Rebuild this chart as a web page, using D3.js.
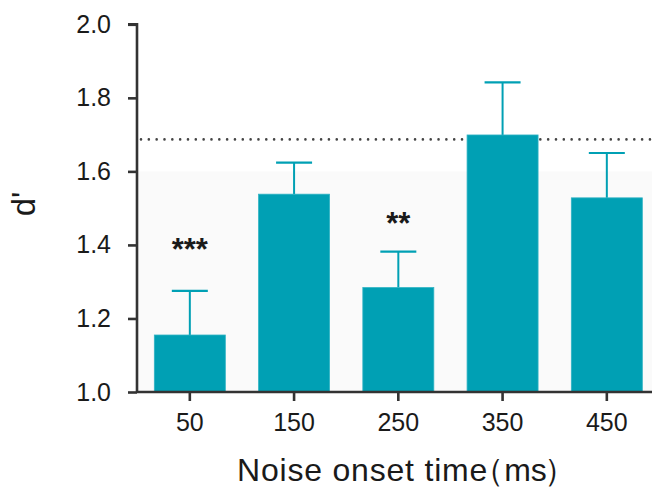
<!DOCTYPE html>
<html><head><meta charset="utf-8">
<script src="https://cdn.jsdelivr.net/npm/d3@7"></script>
<style>body{margin:0;background:#fff}svg{display:block}text{font-family:"Liberation Sans",Arial,sans-serif;fill:#1a1a1a}</style>
</head><body><svg id="c" width="652" height="488"></svg>
<script>
const categories = ["50","150","250","350","450"];
const means = [1.155, 1.538, 1.284, 1.699, 1.528];
const errTops = [1.275, 1.624, 1.382, 1.842, 1.650];
const stars = ["***", "", "**", "", ""];
const starLevels = [1.359, null, 1.430, null, null];
const yTicks = [1.0, 1.2, 1.4, 1.6, 1.8, 2.0];
const refLine = 1.687;
const shadeTop = 1.6;

const svg = d3.select("#c");
const x = d3.scaleBand().domain(categories).range([137.7, 658.95]).paddingInner(0.319).paddingOuter(0.1595);
const y = d3.scaleLinear().domain([1.0, 2.0]).range([392, 24.3]);
const col = "#00a0b4";
const axisCol = "#333333";
const font = "Liberation Sans, Arial, sans-serif";

// faint shading
svg.append("rect").attr("x", 137).attr("y", y(shadeTop)).attr("width", 652 - 137).attr("height", y(1.0) - y(shadeTop)).attr("fill", "#fafafa");

// dotted reference line
svg.append("line").attr("x1", 141).attr("x2", 652).attr("y1", y(refLine)).attr("y2", y(refLine))
  .attr("stroke", "#444").attr("stroke-width", 2.6).attr("stroke-linecap", "round").attr("stroke-dasharray", "0 7.83");

const data = categories.map((c, i) => ({c, m: means[i], e: errTops[i], s: stars[i], sl: starLevels[i]}));

// error bars
const g = svg.append("g");
data.forEach(d => {
  const cx = x(d.c) + x.bandwidth() / 2;
  g.append("line").attr("x1", cx).attr("x2", cx).attr("y1", y(d.m)).attr("y2", y(d.e)).attr("stroke", col).attr("stroke-width", 2);
  g.append("line").attr("x1", cx - 18).attr("x2", cx + 18).attr("y1", y(d.e)).attr("y2", y(d.e)).attr("stroke", col).attr("stroke-width", 2.2);
});

// bars
svg.append("g").selectAll("rect").data(data).join("rect")
  .attr("x", d => x(d.c)).attr("width", x.bandwidth())
  .attr("y", d => y(d.m)).attr("height", d => y(1.0) - y(d.m))
  .attr("fill", col).attr("stroke", "#2fb3c4").attr("stroke-width", 0.8);

// stars
svg.append("g").selectAll("text").data(data.filter(d => d.s)).join("text")
  .attr("x", d => x(d.c) + x.bandwidth() / 2)
  .attr("y", d => y(d.sl))
  .attr("text-anchor", "middle").attr("font-size", 31).attr("font-weight", "bold").text(d => d.s);

// y axis
const yAxis = d3.axisLeft(y).tickValues(yTicks).tickFormat(d3.format(".1f")).tickSize(9).tickPadding(17);
const ya = svg.append("g").attr("transform", "translate(137,0)").call(yAxis);
ya.select(".domain").attr("stroke", axisCol).attr("stroke-width", 2.6).attr("d", `M-9,${y(2.0)}H0V${y(1.0)}`);
ya.selectAll(".tick line").attr("stroke", axisCol).attr("stroke-width", 2.6);
ya.selectAll(".tick text").attr("font-size", 25).attr("fill", "#1a1a1a").attr("font-family", font);

// x axis
const xAxis = d3.axisBottom(x).tickSize(9).tickPadding(12);
const xa = svg.append("g").attr("transform", "translate(0,392)").call(xAxis);
xa.select(".domain").attr("stroke", axisCol).attr("stroke-width", 2.6).attr("d", "M137,0H652");
xa.selectAll(".tick line").attr("stroke", axisCol).attr("stroke-width", 2.6);
xa.selectAll(".tick text").attr("font-size", 25).attr("fill", "#1a1a1a").attr("font-family", font);

// axis titles
const t = svg.append("text").attr("x", 237).attr("y", 481).attr("font-size", 32);
t.append("tspan").attr("letter-spacing", 0.8).text("Noise onset time");
t.append("tspan").attr("dx", -16).text("（");
t.append("tspan").attr("dx", 0).text("ms");
t.append("tspan").attr("dx", -3).text("）");
svg.append("text").attr("transform", "translate(35,204) rotate(-90)").attr("text-anchor", "middle").attr("font-size", 33).text("d'");
</script></body></html>
